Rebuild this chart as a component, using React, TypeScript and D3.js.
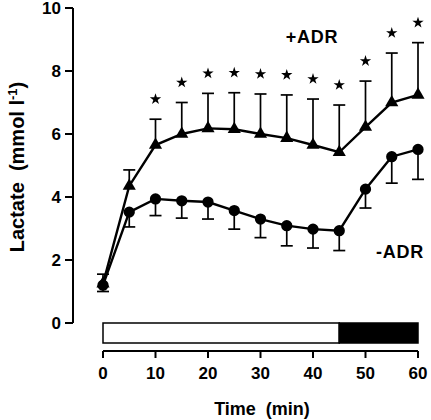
import React from "react";
import * as d3 from "d3";

const time = [0, 5, 10, 15, 20, 25, 30, 35, 40, 45, 50, 55, 60];
const adrMean = [1.25, 4.35, 5.65, 6.0, 6.18, 6.15, 6.0, 5.87, 5.65, 5.42, 6.22, 7.0, 7.24];
const adrErr = [0.3, 0.51, 0.82, 1.0, 1.11, 1.16, 1.27, 1.37, 1.46, 1.5, 1.46, 1.57, 1.66];
const noAdrMean = [1.2, 3.52, 3.94, 3.88, 3.84, 3.57, 3.3, 3.09, 2.98, 2.93, 4.25, 5.28, 5.51];
const noAdrErr = [0.2, 0.47, 0.53, 0.55, 0.54, 0.59, 0.59, 0.64, 0.6, 0.63, 0.6, 0.84, 0.95];
const significant = [false, false, true, true, true, true, true, true, true, true, true, true, true];
const yTicks = [0, 2, 4, 6, 8, 10];
const xTicks = [0, 10, 20, 30, 40, 50, 60];
const phaseStart = [0, 45];
const phaseEnd = [45, 60];
const phaseFill = ["#ffffff", "#000000"];

const FONT = "'Liberation Sans', Arial, Helvetica, sans-serif";

export default function App() {
  const x = d3.scaleLinear().domain([0, 60]).range([103, 418]);
  const y = d3.scaleLinear().domain([0, 10]).range([323, 8]);
  const yAxisX = 73;
  const xAxisY = 351;
  const barTop = 323;
  const barBottom = 343;
  const cap = 6;

  const line = d3
    .line<number>()
    .x((_, i) => x(time[i]))
    .y((d) => y(d));

  const tri = d3.symbol().type(d3.symbolTriangle).size(75)() as string;
  const circ = d3.symbol().type(d3.symbolCircle).size(100)() as string;
  const star = d3.symbol().type(d3.symbolStar).size(40)() as string;

  return (
    <svg
      width={431}
      height={420}
      style={{ position: "absolute", left: 0, top: 0, background: "#fff" }}
      fontFamily={FONT}
      fontWeight="bold"
    >
      <rect x={0} y={0} width={431} height={420} fill="#fff" />
      {/* Y axis */}
      <line x1={yAxisX} x2={yAxisX} y1={y(10)} y2={y(0)} stroke="#000" strokeWidth={2} />
      {yTicks.map((t) => (
        <g key={"yt" + t}>
          <line x1={yAxisX - 8} x2={yAxisX} y1={y(t)} y2={y(t)} stroke="#000" strokeWidth={2} />
          <text x={yAxisX - 12} y={y(t)} dy="0.36em" textAnchor="end" fontSize={17}>
            {t}
          </text>
        </g>
      ))}
      <text
        transform={`translate(24,167) rotate(-90)`}
        textAnchor="middle"
        fontSize={20}
      >
        Lactate{"\u00a0\u00a0"}(mmol l
        <tspan fontSize={13} dy={-7}>-1</tspan>
        <tspan dy={7}>)</tspan>
      </text>

      {/* Phase bar */}
      {phaseStart.map((s, i) => (
        <rect
          key={"ph" + i}
          x={x(s)}
          y={barTop}
          width={x(phaseEnd[i]) - x(s)}
          height={barBottom - barTop}
          fill={phaseFill[i]}
          stroke="#000"
          strokeWidth={1.5}
        />
      ))}

      {/* X axis */}
      <line x1={x(0)} x2={x(60)} y1={xAxisY} y2={xAxisY} stroke="#000" strokeWidth={2} />
      {xTicks.map((t) => (
        <g key={"xt" + t}>
          <line x1={x(t)} x2={x(t)} y1={xAxisY} y2={xAxisY + 7} stroke="#000" strokeWidth={2} />
          <text x={x(t)} y={379} textAnchor="middle" fontSize={17}>
            {t}
          </text>
        </g>
      ))}
      <text x={262} y={415} textAnchor="middle" fontSize={18}>
        Time{"\u00a0\u00a0"}(min)
      </text>

      {/* Error bars */}
      {time.map((t, i) => (
        <g key={"ea" + i} stroke="#000" strokeWidth={1.7}>
          <line x1={x(t)} x2={x(t)} y1={y(adrMean[i])} y2={y(adrMean[i] + adrErr[i])} />
          <line x1={x(t) - cap} x2={x(t) + cap} y1={y(adrMean[i] + adrErr[i])} y2={y(adrMean[i] + adrErr[i])} />
          <line x1={x(t)} x2={x(t)} y1={y(noAdrMean[i])} y2={y(noAdrMean[i] - noAdrErr[i])} />
          <line x1={x(t) - cap} x2={x(t) + cap} y1={y(noAdrMean[i] - noAdrErr[i])} y2={y(noAdrMean[i] - noAdrErr[i])} />
        </g>
      ))}

      {/* Lines */}
      <path d={line(adrMean) as string} fill="none" stroke="#000" strokeWidth={2.4} />
      <path d={line(noAdrMean) as string} fill="none" stroke="#000" strokeWidth={2.4} />

      {/* Markers */}
      {time.map((t, i) => (
        <path key={"mt" + i} d={tri} transform={`translate(${x(t)},${y(adrMean[i])})`} fill="#000" />
      ))}
      {time.map((t, i) => (
        <path key={"mc" + i} d={circ} transform={`translate(${x(t)},${y(noAdrMean[i])})`} fill="#000" />
      ))}

      {/* Significance stars */}
      {time.map((t, i) =>
        significant[i] ? (
          <path
            key={"st" + i}
            d={star}
            transform={`translate(${x(t)},${y(adrMean[i] + adrErr[i]) - 20})`}
            fill="#000"
          />
        ) : null
      )}

      {/* Series labels */}
      <text x={312} y={43} textAnchor="middle" fontSize={18} letterSpacing={0.8}>
        +ADR
      </text>
      <text x={400} y={258} textAnchor="middle" fontSize={18} letterSpacing={0.8}>
        -ADR
      </text>
    </svg>
  );
}
